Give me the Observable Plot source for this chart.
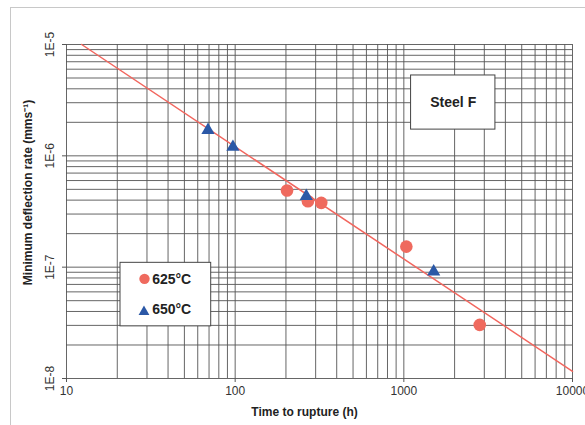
<!DOCTYPE html>
<html>
<head>
<meta charset="utf-8">
<script src="https://cdn.jsdelivr.net/npm/d3@7"></script>
<script src="https://cdn.jsdelivr.net/npm/@observablehq/plot@0.6"></script>
<style>
  html, body { margin: 0; padding: 0; background: #fff; }
  #wrap { position: relative; width: 585px; height: 425px; overflow: hidden; }
  #frame { position: absolute; left: 10px; top: 7px; right: -5px; bottom: -5px;
           border-top: 1.5px solid #c8c8c8; border-left: 1.5px solid #c8c8c8; pointer-events: none; }
</style>
</head>
<body>
<div id="wrap"><div id="frame"></div></div>
<script>
// Axis ticks and labels
const xTicks = [10, 100, 1000, 10000];
const yTicks = [1e-8, 1e-7, 1e-6, 1e-5];
const yTickLabels = ["1E-8", "1E-7", "1E-6", "1E-5"];
const gridMultipliers = [1, 2, 3, 4, 5, 6, 7, 8, 9];
const xDecades = [10, 100, 1000];
const yDecades = [1e-8, 1e-7, 1e-6];

// Series: 625°C
const time625 = [203, 270, 324, 1035, 2818];
const rate625 = [4.88e-7, 3.91e-7, 3.78e-7, 1.53e-7, 3.03e-8];
// Series: 650°C
const time650 = [69, 97, 264, 1503];
const rate650 = [1.7e-6, 1.2e-6, 4.35e-7, 9.1e-8];
// Trend line endpoints
const trendTime = [12.3, 10000];
const trendRate = [1e-5, 1.16e-8];

// Legend / annotation
const legendLabels = ["625°C", "650°C"];
const boxTitle = "Steel F";

const col625 = "#ef6a5e";
const col650 = "#2b58a6";
const colTrend = "#f2665e";

const xGrid = xDecades.flatMap(d => gridMultipliers.map(m => m * d)).concat([10000]);
const yGrid = yDecades.flatMap(d => gridMultipliers.map(m => m * d)).concat([1e-5]);

const d625 = time625.map((t, i) => ({t, r: rate625[i]}));
const d650 = time650.map((t, i) => ({t, r: rate650[i]}));
const trend = trendTime.map((t, i) => ({t, r: trendRate[i]}));

// annotation placements in data space
const legendBox = {x1: 20.9, x2: 72.1, y1: 1.094e-7, y2: 2.94e-8};
const legend625 = {sx: 29.0, sy: 7.85e-8, tx: 32.2, ty: 7.8e-8, label: legendLabels[0]};
const legend650 = {sx: 28.8, sy: 3.97e-8, tx: 32.2, ty: 4.15e-8, label: legendLabels[1]};
const steelBox = {x1: 1104, x2: 3491, y1: 5.27e-6, y2: 1.72e-6, tx: 1963, ty: 3.01e-6};

const chart = Plot.plot({
  width: 585,
  height: 425,
  marginLeft: 66,
  marginRight: 13,
  marginTop: 44,
  marginBottom: 47,
  x: {type: "log", domain: [10, 10000]},
  y: {type: "log", domain: [1e-8, 1e-5]},
  style: {fontFamily: "'Liberation Sans', Arial, sans-serif", fontSize: "12px", color: "#333", background: "transparent"},
  marks: [
    Plot.gridX({ticks: xGrid, stroke: "#555", strokeOpacity: 0.9, strokeWidth: 1}),
    Plot.gridY({ticks: yGrid, stroke: "#555", strokeOpacity: 0.9, strokeWidth: 1}),
    Plot.axisX({ticks: xTicks, tickFormat: d => String(d), tickSize: 4, tickPadding: 4, label: null, stroke: "#555", fontSize: 12}),
    Plot.axisY({ticks: yTicks, tickSize: 4, tickFormat: () => "", label: null, stroke: "#555"}),
    Plot.text(yTicks, {frameAnchor: "left", y: d => d, text: (d, i) => yTickLabels[i], rotate: -90, dx: -16, textAnchor: "middle", lineAnchor: "middle", fontSize: 12, fill: "#333"}),
    Plot.text(["Minimum deflection rate (mms⁻¹)"], {frameAnchor: "left", rotate: -90, dx: -38, dy: -19, textAnchor: "middle", lineAnchor: "middle", fontWeight: "bold", fontSize: 12, fill: "#222"}),
    Plot.text(["Time to rupture (h)"], {frameAnchor: "bottom", dx: -15, dy: 34, textAnchor: "middle", lineAnchor: "middle", fontWeight: "bold", fontSize: 12, fill: "#222"}),
    Plot.line(trend, {x: "t", y: "r", stroke: colTrend, strokeWidth: 1.5}),
    Plot.dot(d625, {x: "t", y: "r", r: 6.3, fill: col625, symbol: "circle"}),
    Plot.dot(d650, {x: "t", y: "r", r: 4.9, fill: col650, symbol: "triangle"}),
    // Legend
    Plot.rect([legendBox], {x1: "x1", x2: "x2", y1: "y1", y2: "y2", fill: "white", stroke: "#444", strokeWidth: 1}),
    Plot.dot([legend625], {x: "sx", y: "sy", fill: col625, symbol: "circle", r: 5.2}),
    Plot.dot([legend650], {x: "sx", y: "sy", fill: col650, symbol: "triangle", r: 4.0}),
    Plot.text([legend625, legend650], {x: "tx", y: "ty", text: "label", textAnchor: "start", fontWeight: "bold", fontSize: 14, fill: "#222"}),
    // Steel F box
    Plot.rect([steelBox], {x1: "x1", x2: "x2", y1: "y1", y2: "y2", fill: "white", stroke: "#444", strokeWidth: 1}),
    Plot.text([steelBox], {x: "tx", y: "ty", text: () => boxTitle, fontWeight: "bold", fontSize: 14, fill: "#222"})
  ]
});
document.getElementById("wrap").prepend(chart);
</script>
</body>
</html>
